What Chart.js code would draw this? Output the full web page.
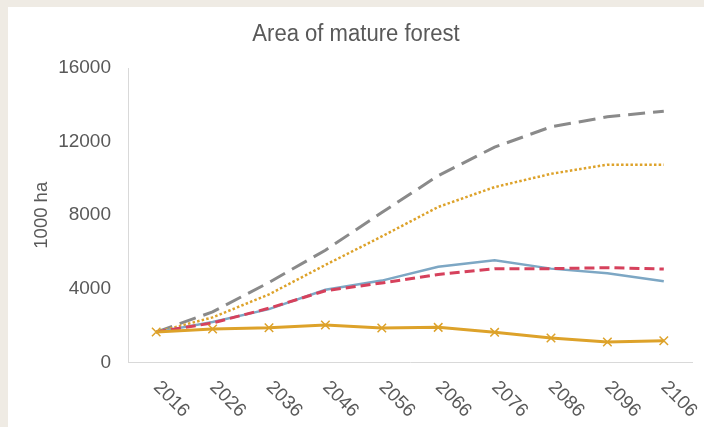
<!DOCTYPE html>
<html>
<head>
<meta charset="utf-8">
<script src="https://cdn.jsdelivr.net/npm/chart.js@4/dist/chart.umd.min.js"></script>
<style>
  html, body { margin: 0; padding: 0; background: #EFEBE4; width: 704px; height: 427px; overflow: hidden; }
  #wrap { position: absolute; left: 8px; top: 7px; width: 696px; height: 420px; background: #ffffff; }
  canvas { display: block; }
</style>
</head>
<body>
<div id="wrap"><canvas id="c" width="696" height="420"></canvas></div>
<script>
const chartTitle = "Area of mature forest";
const yAxisTitle = "1000 ha";
const years = ["2016", "2026", "2036", "2046", "2056", "2066", "2076", "2086", "2096", "2106"];
const yTicks = [0, 4000, 8000, 12000, 16000];
const seriesGrayDashed = [1650, 2750, 4350, 6100, 8150, 10150, 11700, 12800, 13350, 13650];
const seriesYellowDotted = [1650, 2450, 3700, 5300, 6850, 8450, 9530, 10250, 10750, 10750];
const seriesBlue = [1650, 2200, 2900, 3950, 4450, 5200, 5550, 5100, 4850, 4420];
const seriesRedDashed = [1650, 2150, 2950, 3900, 4320, 4780, 5100, 5100, 5150, 5080];
const seriesYellowCross = [1654, 1817, 1887, 2034, 1871, 1909, 1638, 1329, 1112, 1182];

const textColor = '#595959';
const axisColor = '#D9D9D9';
const yellow = '#DDA22A';

const rotatedXLabels = {
  id: 'rotatedXLabels',
  afterDraw(chart) {
    const xs = chart.scales.x;
    const ctx = chart.ctx;
    const axisY = chart.chartArea.bottom;
    ctx.save();
    ctx.fillStyle = textColor;
    ctx.font = '19px "Liberation Sans", Arial, sans-serif';
    ctx.textAlign = 'left';
    ctx.textBaseline = 'alphabetic';
    years.forEach((lab, i) => {
      const x = xs.getPixelForTick(i);
      ctx.save();
      ctx.translate(x - 3.5, axisY + 25.5);
      ctx.rotate(Math.PI / 4);
      ctx.fillText(lab, 0, 0);
      ctx.restore();
    });
    // title text, drawn in the space reserved by the title box
    ctx.font = '23px "Liberation Sans", Arial, sans-serif';
    ctx.textAlign = 'center';
    ctx.textBaseline = 'alphabetic';
    ctx.save();
    ctx.translate(chart.width / 2, 34);
    ctx.scale(0.96, 1);
    ctx.fillText(chartTitle, 0, 0);
    ctx.restore();
    ctx.restore();
  }
};

new Chart(document.getElementById('c'), {
  type: 'line',
  data: {
    labels: years,
    datasets: [
      {
        data: seriesYellowCross, borderColor: yellow, borderWidth: 3,
        pointStyle: 'crossRot', pointRadius: 6, pointBorderWidth: 1.5,
        pointBorderColor: yellow, pointBackgroundColor: yellow, tension: 0
      },
      {
        data: seriesRedDashed, borderColor: '#D6415C', borderWidth: 3,
        borderDash: [10, 5], pointRadius: 0, tension: 0
      },
      {
        data: seriesBlue, borderColor: '#7DA7C4', borderWidth: 2.5,
        pointRadius: 0, tension: 0
      },
      {
        data: seriesYellowDotted, borderColor: yellow, borderWidth: 2.5,
        borderDash: [2.5, 2.2], pointRadius: 0, tension: 0
      },
      {
        data: seriesGrayDashed, borderColor: '#8A8A8A', borderWidth: 3,
        borderDash: [17, 8], pointRadius: 0, tension: 0
      }
    ]
  },
  options: {
    responsive: false,
    animation: false,
    devicePixelRatio: 1,
    layout: { padding: { left: 0, right: 12, top: 0, bottom: 0 } },
    plugins: {
      legend: { display: false },
      tooltip: { enabled: false },
      title: {
        display: true,
        text: chartTitle,
        color: 'rgba(0,0,0,0)',
        font: { family: '"Liberation Sans", Arial, sans-serif', size: 19, weight: 'normal', lineHeight: 1.2 },
        padding: { top: 14.6, bottom: 23.6 }
      }
    },
    scales: {
      x: {
        offset: true,
        grid: { display: false, drawTicks: false },
        border: { color: axisColor, width: 1 },
        ticks: { display: false },
        afterFit(scale) { scale.height = 64.5; }
      },
      y: {
        min: 0, max: 16000,
        grid: { display: false, drawTicks: false },
        border: { color: axisColor, width: 1 },
        afterBuildTicks(scale) { scale.ticks = yTicks.map(v => ({ value: v })); },
        afterFit(scale) { scale.width = 120; },
        ticks: {
          color: textColor,
          padding: 17,
          font: { family: '"Liberation Sans", Arial, sans-serif', size: 19 },
          callback: (v) => String(v)
        },
        title: {
          display: true,
          text: yAxisTitle,
          color: textColor,
          font: { family: '"Liberation Sans", Arial, sans-serif', size: 18.5, lineHeight: 1.2 },
          padding: { top: 22.6, bottom: 0 }
        }
      }
    }
  },
  plugins: [rotatedXLabels]
});
</script>
</body>
</html>
